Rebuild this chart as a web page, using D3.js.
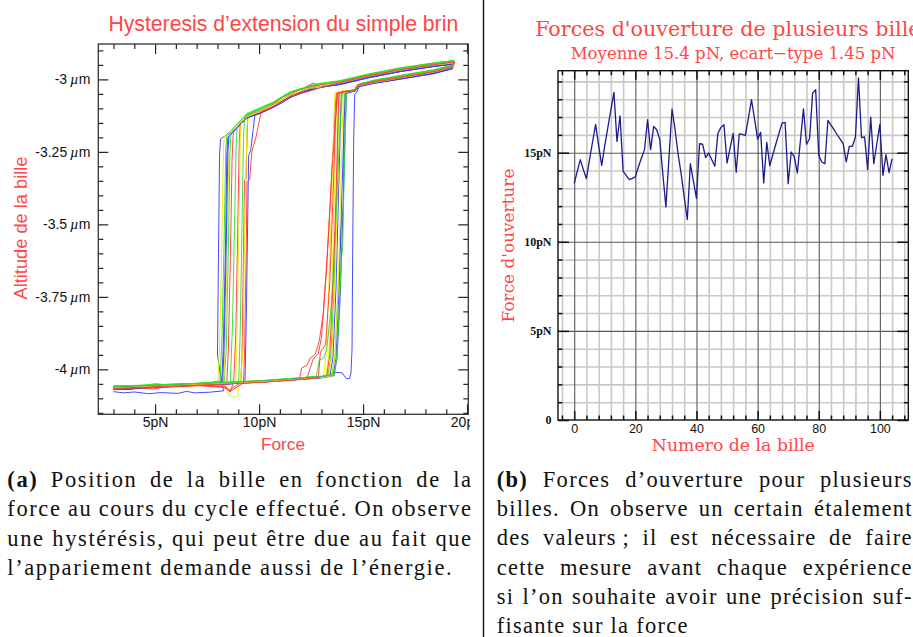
<!DOCTYPE html>
<html>
<head>
<meta charset="utf-8">
<script src="https://cdn.jsdelivr.net/npm/d3@7"></script>
<style>
  body { margin: 0; background: #fff; }
  svg { display: block; }
</style>
</head>
<body>
<svg id="fig" width="913" height="637"></svg>
<script>
// ---------- Panel (a): force / altitude hysteresis cycles, one array per cycle [force pN, altitude µm] ----------
const run01 = [[3.0,-4.064],[4.3,-4.060],[5.7,-4.057],[7.1,-4.053],[8.6,-4.049],[10.1,-4.044],[11.6,-4.036],[13.0,-4.029],[13.6,-4.010],[14.0,-4.012],[14.2,-4.033],[14.35,-4.031],[14.42,-4.012],[14.47,-3.93],[14.5,-3.60],[14.55,-3.20],[14.6,-3.052],[14.72,-3.042],[14.8,-3.026],[15.5,-3.014],[16.8,-2.998],[18.4,-2.979],[19.3,-2.963],[19.33,-2.947],[18.4,-2.955],[16.8,-2.972],[15.2,-2.993],[13.9,-3.016],[12.45,-3.034],[11.5,-3.058],[10.7,-3.093],[10.05,-3.115],[9.4,-3.133],[8.8,-3.178],[8.3,-3.198],[8.15,-3.205],[8.1,-3.26],[8.05,-3.6],[8.0,-3.95],[8.2,-4.05],[8.3,-4.074],[7.6,-4.079],[6.9,-4.081],[6.5,-4.076],[6.1,-4.083],[5.3,-4.080],[4.7,-4.084],[4.0,-4.078],[3.5,-4.081],[3.0,-4.077]];
const run02 = [[3.0,-4.060],[4.3,-4.057],[5.7,-4.056],[7.1,-4.050],[8.6,-4.046],[10.1,-4.042],[11.6,-4.033],[12.9,-4.027],[13.2,-4.024],[13.35,-3.95],[13.5,-3.72],[13.62,-3.40],[13.72,-3.12],[13.75,-3.048],[14.1,-3.042],[14.55,-3.039],[14.72,-3.021],[15.5,-3.010],[16.8,-2.994],[18.4,-2.975],[19.3,-2.958],[19.36,-2.943],[18.4,-2.951],[16.8,-2.968],[15.2,-2.990],[13.9,-3.012],[12.9,-3.022],[12.45,-3.030],[11.95,-3.046],[11.5,-3.052],[11.15,-3.070],[10.7,-3.087],[10.05,-3.110],[9.4,-3.128],[8.8,-3.174],[8.32,-3.197],[8.28,-3.26],[8.2,-3.6],[8.1,-3.92],[8.02,-4.042],[7.1,-4.054],[6.2,-4.064],[5.7,-4.059],[4.3,-4.062],[3.6,-4.070],[3.0,-4.064]];
const run03 = [[3.0,-4.058],[4.3,-4.056],[5.7,-4.052],[7.1,-4.049],[8.6,-4.045],[10.1,-4.040],[11.6,-4.032],[12.9,-4.026],[13.3,-4.022],[13.45,-3.96],[13.6,-3.74],[13.72,-3.42],[13.82,-3.13],[13.85,-3.046],[14.2,-3.040],[14.6,-3.036],[14.76,-3.018],[15.5,-3.007],[16.8,-2.991],[18.4,-2.969],[19.3,-2.952],[19.37,-2.937],[18.4,-2.946],[16.8,-2.963],[15.2,-2.985],[13.9,-3.006],[12.9,-3.016],[12.45,-3.024],[11.95,-3.036],[11.5,-3.044],[11.15,-3.058],[10.7,-3.080],[10.05,-3.102],[9.4,-3.122],[8.8,-3.166],[8.45,-3.190],[8.4,-3.24],[8.32,-3.55],[8.22,-3.88],[8.12,-4.040],[7.1,-4.050],[5.7,-4.055],[5.0,-4.049],[4.3,-4.058],[3.0,-4.061]];
const run04 = [[3.0,-4.063],[4.3,-4.060],[5.7,-4.055],[7.1,-4.052],[8.6,-4.048],[10.1,-4.043],[11.6,-4.035],[11.95,-4.031],[12.05,-3.995],[12.3,-3.986],[12.45,-3.962],[12.7,-3.948],[12.9,-3.90],[13.1,-3.80],[13.35,-3.52],[13.55,-3.25],[13.68,-3.08],[13.72,-3.045],[14.1,-3.041],[14.58,-3.037],[14.74,-3.020],[15.5,-3.009],[16.8,-2.993],[18.4,-2.973],[19.3,-2.956],[19.38,-2.940],[18.4,-2.950],[16.8,-2.967],[15.2,-2.989],[13.9,-3.011],[12.9,-3.021],[12.6,-3.013],[12.2,-3.028],[11.95,-3.050],[11.5,-3.062],[11.15,-3.078],[10.7,-3.096],[10.05,-3.118],[9.6,-3.127],[9.45,-3.135],[9.4,-3.26],[9.38,-3.34],[9.3,-3.35],[9.25,-3.6],[9.18,-3.95],[9.12,-4.046],[8.6,-4.070],[8.2,-4.062],[7.1,-4.056],[5.7,-4.060],[4.3,-4.064],[3.0,-4.068]];
const run05 = [[3.0,-4.066],[3.8,-4.070],[4.3,-4.062],[5.7,-4.058],[7.1,-4.054],[8.6,-4.049],[10.1,-4.044],[11.6,-4.037],[12.9,-4.030],[13.4,-4.025],[13.55,-3.96],[13.7,-3.72],[13.82,-3.40],[13.92,-3.12],[13.95,-3.050],[14.3,-3.043],[14.62,-3.040],[14.78,-3.024],[15.5,-3.013],[16.8,-2.999],[18.4,-2.980],[19.3,-2.963],[19.34,-2.948],[18.4,-2.956],[16.8,-2.973],[15.2,-2.996],[13.9,-3.018],[12.9,-3.028],[12.45,-3.038],[11.95,-3.049],[11.5,-3.062],[11.15,-3.076],[10.7,-3.095],[10.05,-3.116],[9.4,-3.134],[8.8,-3.179],[8.5,-3.199],[8.45,-3.26],[8.38,-3.6],[8.28,-3.92],[8.2,-4.044],[7.1,-4.054],[5.7,-4.060],[4.3,-4.066],[3.0,-4.070]];
const run06 = [[3.0,-4.059],[4.3,-4.057],[5.7,-4.053],[7.1,-4.049],[8.6,-4.046],[10.1,-4.040],[11.6,-4.033],[12.7,-4.027],[13.1,-4.024],[13.22,-3.95],[13.35,-3.72],[13.5,-3.40],[13.6,-3.12],[13.65,-3.046],[14.0,-3.040],[14.55,-3.037],[14.7,-3.019],[15.5,-3.008],[16.8,-2.992],[18.4,-2.973],[19.3,-2.956],[19.35,-2.941],[18.4,-2.949],[16.8,-2.966],[15.2,-2.988],[13.9,-3.010],[12.9,-3.018],[12.7,-3.027],[12.45,-3.029],[11.95,-3.041],[11.5,-3.051],[11.15,-3.068],[10.7,-3.086],[10.05,-3.108],[9.5,-3.125],[9.42,-3.16],[9.36,-3.35],[9.3,-3.55],[9.27,-3.73],[9.24,-3.92],[9.1,-4.04],[8.95,-4.094],[8.75,-4.096],[8.5,-4.084],[8.42,-4.056],[7.1,-4.052],[5.7,-4.056],[4.3,-4.060],[3.0,-4.063]];
const run07 = [[3.0,-4.057],[4.3,-4.055],[5.7,-4.051],[7.1,-4.048],[8.6,-4.044],[10.1,-4.039],[11.6,-4.031],[12.9,-4.024],[13.5,-4.020],[13.65,-3.95],[13.8,-3.72],[13.95,-3.50],[14.05,-3.44],[14.07,-3.20],[14.1,-3.044],[14.4,-3.038],[14.64,-3.035],[14.8,-3.017],[15.5,-3.004],[16.8,-2.987],[18.4,-2.968],[19.3,-2.951],[19.36,-2.936],[18.4,-2.944],[16.8,-2.961],[15.2,-2.984],[13.9,-3.006],[12.9,-3.018],[12.45,-3.026],[11.95,-3.034],[11.5,-3.044],[11.15,-3.060],[10.7,-3.078],[10.05,-3.098],[9.4,-3.118],[8.8,-3.165],[8.65,-3.188],[8.6,-3.25],[8.52,-3.6],[8.42,-3.93],[8.33,-4.041],[7.1,-4.049],[5.7,-4.054],[4.3,-4.057],[3.0,-4.060]];
const run08 = [[3.0,-4.064],[4.3,-4.061],[5.7,-4.056],[7.1,-4.053],[8.6,-4.049],[10.1,-4.044],[11.6,-4.036],[12.3,-4.031],[12.45,-3.998],[12.6,-3.965],[12.85,-3.945],[13.0,-3.89],[13.25,-3.65],[13.5,-3.32],[13.72,-3.10],[13.8,-3.047],[14.2,-3.041],[14.6,-3.038],[14.75,-3.022],[15.5,-3.011],[16.8,-2.995],[18.4,-2.976],[19.3,-2.959],[19.4,-2.942],[18.4,-2.951],[16.8,-2.968],[15.2,-2.990],[13.9,-3.012],[12.9,-3.020],[12.45,-3.024],[11.95,-3.036],[11.5,-3.050],[11.15,-3.060],[10.7,-3.084],[10.05,-3.113],[9.4,-3.131],[8.8,-3.176],[8.75,-3.195],[8.7,-3.28],[8.62,-3.62],[8.52,-3.94],[8.45,-4.045],[8.2,-4.052],[7.1,-4.055],[5.7,-4.059],[4.9,-4.068],[4.3,-4.063],[3.0,-4.067]];
const run09 = [[3.0,-4.062],[4.3,-4.059],[5.7,-4.055],[7.1,-4.051],[8.6,-4.047],[10.1,-4.042],[11.6,-4.035],[12.9,-4.028],[13.6,-4.022],[13.75,-3.96],[13.9,-3.75],[14.05,-3.42],[14.15,-3.15],[14.2,-3.049],[14.5,-3.042],[14.65,-3.039],[14.8,-3.023],[15.5,-3.014],[16.8,-2.999],[18.4,-2.980],[19.3,-2.963],[19.33,-2.947],[18.4,-2.955],[16.8,-2.973],[15.2,-2.995],[13.9,-3.017],[12.9,-3.027],[12.45,-3.036],[11.95,-3.050],[11.5,-3.060],[11.15,-3.074],[10.7,-3.093],[10.05,-3.115],[9.8,-3.122],[9.72,-3.17],[9.6,-3.245],[9.5,-3.262],[9.45,-3.5],[9.38,-3.85],[9.32,-4.043],[8.6,-4.051],[7.1,-4.054],[5.7,-4.059],[4.3,-4.062],[3.0,-4.066]];
const run10 = [[3.0,-4.065],[4.3,-4.062],[5.7,-4.057],[7.1,-4.052],[8.6,-4.048],[10.1,-4.043],[11.6,-4.035],[12.9,-4.028],[13.35,-4.024],[13.5,-3.95],[13.65,-3.70],[13.78,-3.38],[13.87,-3.11],[13.9,-3.047],[14.3,-3.041],[14.6,-3.038],[14.76,-3.021],[15.5,-3.010],[16.8,-2.994],[18.4,-2.974],[19.3,-2.957],[19.37,-2.942],[18.4,-2.950],[16.8,-2.967],[15.2,-2.989],[13.9,-3.011],[13.2,-3.016],[12.9,-3.028],[12.45,-3.030],[11.95,-3.043],[11.5,-3.054],[11.15,-3.069],[10.7,-3.088],[10.05,-3.110],[9.4,-3.129],[8.8,-3.173],[8.6,-3.192],[8.55,-3.24],[8.48,-3.55],[8.38,-3.9],[8.3,-4.042],[7.1,-4.051],[5.7,-4.057],[4.3,-4.060],[3.0,-4.062]];
const run11 = [[3.0,-4.059],[4.3,-4.056],[5.7,-4.053],[7.1,-4.049],[8.6,-4.045],[10.1,-4.040],[11.6,-4.032],[12.75,-4.024],[12.9,-3.968],[13.1,-3.962],[13.25,-3.932],[13.5,-3.76],[13.7,-3.47],[13.9,-3.16],[13.98,-3.07],[14.0,-3.045],[14.35,-3.039],[14.62,-3.036],[14.78,-3.018],[15.5,-3.005],[16.8,-2.988],[18.4,-2.969],[19.3,-2.952],[19.35,-2.936],[18.4,-2.945],[16.8,-2.962],[15.2,-2.984],[13.9,-3.007],[12.9,-3.016],[12.45,-3.023],[11.95,-3.035],[11.5,-3.047],[11.15,-3.062],[10.7,-3.081],[10.05,-3.104],[9.4,-3.124],[8.95,-3.165],[8.9,-3.22],[8.82,-3.5],[8.72,-3.85],[8.62,-4.044],[7.1,-4.050],[5.7,-4.055],[4.3,-4.058],[3.0,-4.062]];
const run12 = [[3.0,-4.061],[4.3,-4.058],[5.7,-4.054],[7.1,-4.050],[8.6,-4.046],[10.1,-4.041],[11.6,-4.033],[12.9,-4.026],[13.25,-4.023],[13.4,-3.95],[13.55,-3.72],[13.7,-3.40],[13.8,-3.12],[13.85,-3.046],[14.2,-3.040],[14.6,-3.037],[14.74,-3.019],[15.5,-3.008],[16.8,-2.992],[18.4,-2.973],[19.3,-2.956],[19.42,-2.941],[18.4,-2.949],[16.8,-2.966],[15.2,-2.988],[13.9,-3.010],[12.9,-3.021],[12.45,-3.029],[11.95,-3.045],[11.5,-3.053],[11.15,-3.069],[10.7,-3.087],[10.05,-3.109],[9.4,-3.127],[9.1,-3.15],[9.05,-3.21],[8.98,-3.5],[8.88,-3.88],[8.78,-4.045],[8.6,-4.078],[8.4,-4.060],[7.1,-4.053],[5.7,-4.057],[4.3,-4.061],[3.0,-4.064]];
const run13 = [[3.0,-4.060],[4.3,-4.058],[5.7,-4.054],[7.1,-4.050],[8.6,-4.046],[10.1,-4.041],[11.6,-4.034],[12.9,-4.027],[13.55,-4.022],[13.7,-3.96],[13.85,-3.72],[13.98,-3.40],[14.1,-3.13],[14.15,-3.048],[14.45,-3.042],[14.65,-3.039],[14.79,-3.023],[15.5,-3.012],[16.8,-2.996],[18.4,-2.976],[19.3,-2.959],[19.34,-2.944],[18.4,-2.952],[16.8,-2.969],[15.2,-2.991],[13.9,-3.013],[12.9,-3.022],[12.45,-3.031],[11.95,-3.045],[11.5,-3.063],[11.15,-3.078],[10.7,-3.096],[10.05,-3.116],[9.4,-3.133],[8.8,-3.177],[8.55,-3.196],[8.5,-3.25],[8.42,-3.58],[8.32,-3.92],[8.25,-4.043],[7.1,-4.052],[5.7,-4.057],[4.3,-4.060],[3.0,-4.063]];
const run14 = [[3.0,-4.063],[4.3,-4.060],[5.7,-4.056],[7.1,-4.052],[8.6,-4.048],[10.1,-4.042],[11.6,-4.035],[12.9,-4.028],[13.5,-4.023],[13.65,-3.96],[13.8,-3.72],[13.92,-3.40],[14.02,-3.12],[14.05,-3.047],[14.4,-3.041],[14.62,-3.038],[14.77,-3.022],[15.5,-3.011],[16.8,-2.995],[18.4,-2.975],[19.3,-2.958],[19.38,-2.943],[18.4,-2.951],[16.8,-2.968],[15.2,-2.990],[13.9,-3.012],[12.9,-3.022],[12.45,-3.030],[11.95,-3.042],[11.5,-3.053],[11.15,-3.070],[10.7,-3.088],[10.05,-3.111],[9.4,-3.129],[9.15,-3.145],[9.1,-3.20],[9.03,-3.5],[8.95,-3.85],[8.88,-4.046],[7.1,-4.053],[5.7,-4.058],[4.3,-4.061],[3.0,-4.065]];
const run15 = [[3.0,-4.058],[4.3,-4.055],[5.7,-4.052],[7.1,-4.048],[8.6,-4.044],[10.1,-4.039],[11.6,-4.031],[12.9,-4.025],[13.6,-4.020],[13.72,-3.97],[13.85,-3.80],[13.95,-3.62],[14.02,-3.58],[14.1,-3.30],[14.18,-3.10],[14.2,-3.043],[14.5,-3.038],[14.66,-3.034],[14.8,-3.016],[15.5,-3.003],[16.8,-2.986],[18.4,-2.967],[19.3,-2.950],[19.36,-2.935],[18.4,-2.943],[16.8,-2.960],[15.2,-2.982],[13.9,-3.004],[12.9,-3.014],[12.45,-3.022],[11.95,-3.033],[11.5,-3.043],[11.15,-3.058],[10.7,-3.078],[10.05,-3.101],[9.4,-3.121],[9.3,-3.14],[9.25,-3.20],[9.18,-3.5],[9.1,-3.85],[9.02,-4.045],[7.1,-4.048],[5.7,-4.053],[4.3,-4.057],[3.0,-4.060]];
const run16 = [[3.0,-4.065],[4.3,-4.062],[5.7,-4.058],[7.1,-4.054],[8.6,-4.050],[10.1,-4.045],[11.6,-4.037],[12.85,-4.029],[12.95,-3.94],[13.2,-3.915],[13.4,-3.70],[13.55,-3.42],[13.68,-3.13],[13.75,-3.049],[14.1,-3.043],[14.58,-3.040],[14.73,-3.021],[15.5,-3.010],[16.8,-2.994],[18.4,-2.974],[19.3,-2.957],[19.4,-2.939],[18.4,-2.950],[16.8,-2.967],[15.2,-2.989],[13.9,-3.011],[12.9,-3.030],[12.45,-3.040],[11.95,-3.049],[11.5,-3.059],[11.15,-3.076],[10.7,-3.094],[10.1,-3.112],[10.0,-3.148],[9.85,-3.20],[9.65,-3.25],[9.55,-3.345],[9.42,-3.355],[9.38,-3.6],[9.3,-3.95],[9.25,-4.047],[8.6,-4.076],[8.3,-4.058],[7.1,-4.056],[5.7,-4.060],[4.3,-4.063],[3.0,-4.067]];

const runs = [run01, run02, run03, run04, run05, run06, run07, run08,
              run09, run10, run11, run12, run13, run14, run15, run16];
const runColors = ["#3a3aff", "#ecec00", "#30dc30", "#ff3a3a"];

const forceMajor = [5, 10, 15, 20];
const forceMinor = [3, 4, 6, 7, 8, 9, 11, 12, 13, 14, 16, 17, 18, 19];
const altMajor = [-4, -3.75, -3.5, -3.25, -3];
const altMinor = [-4.15, -4.1, -4.05, -3.95, -3.9, -3.85, -3.8, -3.7, -3.65, -3.6, -3.55,
                  -3.45, -3.4, -3.35, -3.3, -3.2, -3.15, -3.1, -3.05, -2.95, -2.9];

// ---------- Panel (b): opening force of each bead ----------
const openingForce = [
  13.27, 13.95, 14.61, 14.05, 13.54, 14.60, 15.60, 16.59, 15.40, 14.29,
  15.40, 16.40, 17.40, 18.38, 15.63, 17.07, 13.96, 13.72, 13.49, 13.56,
  13.64, 14.20, 14.70, 15.17, 16.85, 15.17, 16.47, 16.29, 15.73, 13.80,
  11.96, 14.70, 17.44, 16.30, 14.90, 13.80, 12.50, 11.25, 14.38, 13.40,
  12.43, 15.50, 15.48, 14.72, 14.98, 14.60, 14.24, 16.08, 16.42, 16.57,
  14.42, 15.25, 16.08, 13.90, 16.06, 16.03, 15.97, 16.95, 17.97, 16.90,
  15.76, 16.14, 13.30, 15.58, 14.27, 14.90, 15.50, 16.10, 16.66, 16.70,
  13.26, 15.04, 14.76, 13.86, 15.66, 17.46, 15.47, 15.78, 18.34, 18.53,
  14.85, 14.48, 14.38, 16.81, 16.55, 16.30, 16.02, 15.76, 15.50, 14.48,
  15.35, 15.35, 15.88, 19.20, 15.84, 15.88, 14.05, 17.00, 14.38, 15.50,
  16.59, 13.73, 14.89, 13.88, 14.65
];
const beadMajor = [0, 20, 40, 60, 80, 100];
const beadMinor = [-4, 4, 8, 12, 16, 24, 28, 32, 36, 44, 48, 52, 56, 64, 68, 72, 76,
                   84, 88, 92, 96, 104, 108];
const forceBMajor = [0, 5, 10, 15];
const forceBMinor = [1, 2, 3, 4, 6, 7, 8, 9, 11, 12, 13, 14, 16, 17, 18, 19];

// ---------- Captions ----------
const captionA = [
  [["(a)", true], [" Position de la bille en fonction de la", false]],
  [["force au cours du cycle effectué. On observe", false]],
  [["une hystérésis, qui peut être due au fait que", false]],
  [["l’appariement demande aussi de l’énergie.", false]]
];
const captionB = [
  [["(b)", true], [" Forces d’ouverture pour plusieurs", false]],
  [["billes. On observe un certain étalement", false]],
  [["des valeurs\u2009; il est nécessaire de faire", false]],
  [["cette mesure avant chaque expérience", false]],
  [["si l’on souhaite avoir une précision suf-", false]],
  [["fisante sur la force", false]]
];

const SANS = "'Liberation Sans', Arial, Helvetica, sans-serif";
const SERIF_B = "'DejaVu Serif', serif";
const SERIF_CAP = "'Liberation Serif', 'Times New Roman', serif";
const RED = "#ff4646";

const svg = d3.select("#fig");

function fitWidth(sel, target) {
  const w = sel.node().getComputedTextLength();
  const fs = parseFloat(sel.attr("font-size"));
  sel.attr("font-size", (fs * target / w).toFixed(2));
  return sel;
}

// ================= Panel (a) =================
const A = { left: 98.3, right: 468.3, top: 44, bottom: 414.3 };
const xA = d3.scaleLinear().domain([2.27, 20.06]).range([A.left, A.right]);
const yA = d3.scaleLinear().domain([-4.155, -2.878]).range([A.bottom, A.top]);

svg.append("defs").append("clipPath").attr("id", "clipA")
  .append("rect").attr("x", 0).attr("y", 0).attr("width", 470).attr("height", 455);

const gA = svg.append("g").attr("clip-path", "url(#clipA)");

const lineA = d3.line().x(d => xA(d[0])).y(d => yA(d[1]));
gA.append("g").selectAll("path").data(runs).join("path")
  .attr("d", lineA)
  .attr("fill", "none")
  .attr("stroke", (d, i) => runColors[i % 4])
  .attr("stroke-width", 1.0)
  .attr("stroke-linejoin", "round")
  .attr("stroke-opacity", 0.92);

function styleAxis(g, color, width) {
  g.select(".domain").remove();
  g.selectAll(".tick line").attr("stroke", color).attr("stroke-width", width);
}

// inward ticks on all four sides
[[forceMajor, 10], [forceMinor, 5]].forEach(([vals, len]) => {
  gA.append("g").attr("transform", `translate(0,${A.bottom})`)
    .call(d3.axisBottom(xA).tickValues(vals).tickSizeInner(-len).tickSizeOuter(0).tickFormat(""))
    .call(g => styleAxis(g, "#222", 1.2));
  gA.append("g").attr("transform", `translate(0,${A.top})`)
    .call(d3.axisTop(xA).tickValues(vals).tickSizeInner(-len).tickSizeOuter(0).tickFormat(""))
    .call(g => styleAxis(g, "#222", 1.2));
});
[[altMajor, 10], [altMinor, 5]].forEach(([vals, len]) => {
  gA.append("g").attr("transform", `translate(${A.left},0)`)
    .call(d3.axisLeft(yA).tickValues(vals).tickSizeInner(-len).tickSizeOuter(0).tickFormat(""))
    .call(g => styleAxis(g, "#222", 1.2));
  gA.append("g").attr("transform", `translate(${A.right},0)`)
    .call(d3.axisRight(yA).tickValues(vals).tickSizeInner(-len).tickSizeOuter(0).tickFormat(""))
    .call(g => styleAxis(g, "#222", 1.2));
});

gA.append("rect")
  .attr("x", A.left).attr("y", A.top)
  .attr("width", A.right - A.left).attr("height", A.bottom - A.top)
  .attr("fill", "none").attr("stroke", "#333").attr("stroke-width", 1.3);

// tick labels
gA.append("g").attr("transform", `translate(0,${A.bottom})`)
  .call(d3.axisBottom(xA).tickValues(forceMajor).tickSize(0).tickPadding(3).tickFormat(d => d + "pN"))
  .call(g => g.select(".domain").remove())
  .call(g => g.selectAll("text").attr("font-family", SANS).attr("font-size", 14).attr("fill", "#111"));

gA.append("g").attr("transform", `translate(${A.left},0)`)
  .call(d3.axisLeft(yA).tickValues(altMajor).tickSize(0).tickPadding(8).tickFormat(d => String(d)))
  .call(g => g.select(".domain").remove())
  .call(g => g.selectAll("text")
    .attr("font-family", SANS).attr("font-size", 14).attr("fill", "#111")
    .each(function (d) {
      const t = d3.select(this).text(null);
      t.append("tspan").text(String(d) + "\u2009");
      t.append("tspan").attr("font-style", "italic").attr("font-family", SERIF_CAP).attr("font-size", 15).text("µ");
      t.append("tspan").text("m");
    }));

fitWidth(gA.append("text")
  .attr("x", (A.left + A.right) / 2).attr("y", 30.5)
  .attr("text-anchor", "middle").attr("font-family", SANS).attr("font-size", 19)
  .attr("fill", RED).text("Hysteresis d’extension du simple brin"), 350);

fitWidth(gA.append("text")
  .attr("x", 283).attr("y", 449.5)
  .attr("text-anchor", "middle").attr("font-family", SANS).attr("font-size", 17.5)
  .attr("fill", RED).text("Force"), 44);

fitWidth(gA.append("text")
  .attr("transform", "translate(26.5,228) rotate(-90)")
  .attr("text-anchor", "middle").attr("font-family", SANS).attr("font-size", 18.5)
  .attr("fill", RED).text("Altitude de la bille"), 143);

// ================= Panel (b) =================
const B = { left: 558, right: 908.3, top: 70.7, bottom: 420 };
const xB = d3.scaleLinear().domain([-5.3, 109.3]).range([B.left, B.right]);
const yB = d3.scaleLinear().domain([0, 19.6]).range([B.bottom, B.top]);
const gB = svg.append("g");
const H = B.bottom - B.top, W = B.right - B.left;

// grid: light minor lines first, darker major lines over them
gB.append("g").attr("transform", `translate(0,${B.bottom})`)
  .call(d3.axisBottom(xB).tickValues(beadMinor).tickSizeInner(-H).tickSizeOuter(0).tickFormat(""))
  .call(g => styleAxis(g, "#c9c9c9", 1.6));
gB.append("g").attr("transform", `translate(${B.left},0)`)
  .call(d3.axisLeft(yB).tickValues(forceBMinor).tickSizeInner(-W).tickSizeOuter(0).tickFormat(""))
  .call(g => styleAxis(g, "#c9c9c9", 1.6));
gB.append("g").attr("transform", `translate(0,${B.bottom})`)
  .call(d3.axisBottom(xB).tickValues(beadMajor).tickSizeInner(-H).tickSizeOuter(0).tickFormat(""))
  .call(g => styleAxis(g, "#5a5a5a", 1.1));
gB.append("g").attr("transform", `translate(${B.left},0)`)
  .call(d3.axisLeft(yB).tickValues(forceBMajor.slice(1)).tickSizeInner(-W).tickSizeOuter(0).tickFormat(""))
  .call(g => styleAxis(g, "#5a5a5a", 1.1));

// black tick stubs on the frame
[[beadMajor, 9], [beadMinor, 4.5]].forEach(([vals, len]) => {
  gB.append("g").attr("transform", `translate(0,${B.bottom})`)
    .call(d3.axisBottom(xB).tickValues(vals).tickSizeInner(-len).tickSizeOuter(0).tickFormat(""))
    .call(g => styleAxis(g, "#111", 1.5));
  gB.append("g").attr("transform", `translate(0,${B.top})`)
    .call(d3.axisTop(xB).tickValues(vals).tickSizeInner(-len).tickSizeOuter(0).tickFormat(""))
    .call(g => styleAxis(g, "#111", 1.5));
});
[[forceBMajor, 11], [forceBMinor, 4.5]].forEach(([vals, len]) => {
  gB.append("g").attr("transform", `translate(${B.left},0)`)
    .call(d3.axisLeft(yB).tickValues(vals).tickSizeInner(-len).tickSizeOuter(0).tickFormat(""))
    .call(g => styleAxis(g, "#111", 1.5));
  gB.append("g").attr("transform", `translate(${B.right},0)`)
    .call(d3.axisRight(yB).tickValues(vals).tickSizeInner(-len).tickSizeOuter(0).tickFormat(""))
    .call(g => styleAxis(g, "#111", 1.5));
});

const lineB = d3.line().x((d, i) => xB(i)).y(d => yB(d));
gB.append("path").datum(openingForce)
  .attr("d", lineB).attr("fill", "none")
  .attr("stroke", "#1b1b8c").attr("stroke-width", 1.3).attr("stroke-linejoin", "round");

gB.append("rect")
  .attr("x", B.left).attr("y", B.top).attr("width", W).attr("height", H)
  .attr("fill", "none").attr("stroke", "#111").attr("stroke-width", 1.4);

gB.append("g").attr("transform", `translate(0,${B.bottom})`)
  .call(d3.axisBottom(xB).tickValues(beadMajor).tickSize(0).tickPadding(4))
  .call(g => g.select(".domain").remove())
  .call(g => g.selectAll("text").attr("font-family", SANS).attr("font-size", 12.5).attr("fill", "#111"));

gB.append("g").attr("transform", `translate(${B.left},0)`)
  .call(d3.axisLeft(yB).tickValues(forceBMajor).tickSize(0).tickPadding(6.5)
    .tickFormat(d => d === 0 ? "0" : d + "pN"))
  .call(g => g.select(".domain").remove())
  .call(g => g.selectAll("text").attr("font-family", SERIF_CAP).attr("font-weight", "bold")
    .attr("font-size", 12).attr("fill", "#111"));

fitWidth(gB.append("text")
  .attr("x", (B.left + B.right) / 2).attr("y", 35.5)
  .attr("text-anchor", "middle").attr("font-family", SERIF_B).attr("font-size", 18)
  .attr("fill", RED).text("Forces d'ouverture de plusieurs billes"), 396);

fitWidth(gB.append("text")
  .attr("x", (B.left + B.right) / 2).attr("y", 59)
  .attr("text-anchor", "middle").attr("font-family", SERIF_B).attr("font-size", 15)
  .attr("fill", RED).text("Moyenne 15.4 pN, ecart\u2212type 1.45 pN"), 325);

fitWidth(gB.append("text")
  .attr("x", 733.3).attr("y", 450.5)
  .attr("text-anchor", "middle").attr("font-family", SERIF_B).attr("font-size", 15)
  .attr("fill", RED).text("Numero de la bille"), 163);

fitWidth(gB.append("text")
  .attr("transform", "translate(514,245.5) rotate(-90)")
  .attr("text-anchor", "middle").attr("font-family", SERIF_B).attr("font-size", 15)
  .attr("fill", RED).text("Force d'ouverture"), 154);

// separator between the two sub-figures
svg.append("line").attr("x1", 483.5).attr("x2", 483.5).attr("y1", 0).attr("y2", 637)
  .attr("stroke", "#111").attr("stroke-width", 1.4);

// ================= Captions (justified lines) =================
const CAP_SIZE = 22.5;
function drawCaption(lines, x0, x1, y0, step, lastWidth) {
  const g = svg.append("g").attr("font-family", SERIF_CAP).attr("font-size", CAP_SIZE).attr("fill", "#111");
  const texts = lines.map((parts, i) => {
    const t = g.append("text").attr("x", x0).attr("y", y0 + i * step);
    parts.forEach(([s, bold]) => t.append("tspan").attr("font-weight", bold ? "bold" : null).text(s));
    return t;
  });
  // letter spacing chosen so the final (ragged) line has its natural width
  const last = texts[texts.length - 1];
  const nChars = last.text().length;
  const ls = Math.max(0, (lastWidth - last.node().getComputedTextLength()) / nChars);
  texts.forEach(t => t.attr("letter-spacing", ls.toFixed(3)));
  texts.forEach((t, i) => {
    if (i === texts.length - 1) return;
    const nSp = (t.text().match(/ /g) || []).length;
    const w = t.node().getComputedTextLength();
    t.attr("word-spacing", ((x1 - x0 - w) / nSp).toFixed(3));
  });
}
drawCaption(captionA, 7.3, 472.7, 487, 29.4, 446);
drawCaption(captionB, 496.7, 912.7, 487, 29.2, 192);
</script>
</body>
</html>
